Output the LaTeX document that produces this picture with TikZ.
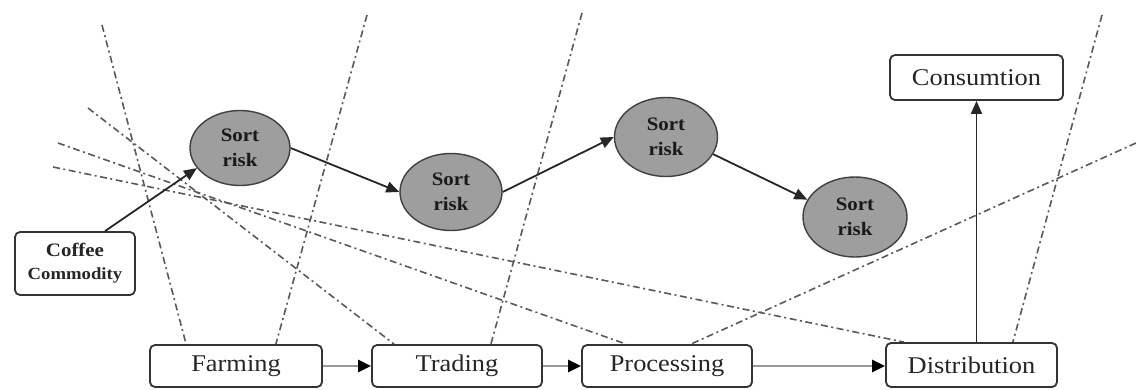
\documentclass[tikz,border=0pt]{standalone}
\usepackage{fontspec}
\setmainfont[FakeStretch=1.1]{Liberation Serif}
\usetikzlibrary{arrows.meta,shapes.geometric,backgrounds}
\begin{document}
\begin{tikzpicture}[x=1pt,y=-1pt,
  stage/.style={draw=black!80, line width=1.8pt, rounded corners=5pt, fill=white,
    inner sep=0pt, text=black!85, font=\fontsize{24}{26}\selectfont},
  risk/.style={ellipse, draw=black!75, line width=1.4pt, fill=black!38, inner sep=0pt,
    align=center, text=black!90, font=\bfseries\fontsize{19}{25}\selectfont},
  link/.style={line width=1.8pt, draw=black!85, -{Triangle[length=13pt,width=11pt]}},
  flow/.style={line width=2.6pt, draw=black!40, -{Triangle[length=13pt,width=12pt,color=black]}},
  hazard/.style={line width=1.6pt, draw=black!65, dash pattern=on 7pt off 3.5pt on 2pt off 3.5pt}]
\useasboundingbox (0,0) rectangle (1136,389);

% supply-chain stages
\node[stage, minimum width=120pt, minimum height=63pt, align=center,
  font=\bfseries\fontsize{19}{23}\selectfont] (coffee) at (75,263.5)
  {Coffee\\{\fontsize{17}{23}\selectfont Commodity}};
\node[stage, minimum width=172pt, minimum height=42pt] (farm) at (236,366) {Farming};
\node[stage, minimum width=170pt, minimum height=42pt] (trad) at (457,366) {Trading};
\node[stage, minimum width=170pt, minimum height=42pt] (proc) at (667,366) {Processing};
\node[stage, minimum width=171pt, minimum height=44pt] (dist) at (971.5,365) {Distribution};
\node[stage, minimum width=173pt, minimum height=45pt] (cons) at (976.5,77.5) {Consumtion};

% risk points
\node[risk, minimum width=100pt, minimum height=75pt] (r1) at (240,148) {Sort\\risk};
\node[risk, minimum width=102pt, minimum height=77pt] (r2) at (451,192) {Sort\\risk};
\node[risk, minimum width=103pt, minimum height=79pt] (r3) at (666,137) {Sort\\risk};
\node[risk, minimum width=104pt, minimum height=80pt] (r4) at (855,217) {Sort\\risk};

% free ends of the risk lines
\coordinate (a1) at (102,25);
\coordinate (a2) at (367,15);
\coordinate (a3) at (88,108);
\coordinate (a4) at (58,143);
\coordinate (a5) at (53,167);
\coordinate (a6) at (582,13);
\coordinate (a7) at (1136,143);
\coordinate (a8) at (1102,15);

\begin{scope}[on background layer]
  \draw[hazard] (a1) -- ([xshift=37pt]farm.north west);
  \draw[hazard] (a2) -- ([xshift=-47pt]farm.north east);
  \draw[hazard] (a3) -- ([xshift=23pt]trad.north west);
  \draw[hazard] (a6) -- ([xshift=-52pt]trad.north east);
  \draw[hazard] (a4) -- ([xshift=45pt]proc.north west);
  \draw[hazard] (a7) -- ([xshift=-62pt]proc.north east);
  \draw[hazard] (a5) -- ([xshift=19pt]dist.north west);
  \draw[hazard] (a8) -- ([xshift=-45pt]dist.north east);
\end{scope}

% risk chain
\draw[link] ([xshift=30pt]coffee.north) -- (r1.205);
\draw[link] (r1.east) -- (r2.west);
\draw[link] (r2.east) -- (r3.west);
\draw[link] (r3.-20) -- (r4.160);
\draw[link] (dist.north -| cons) -- (cons.south);

% flow of goods
\draw[flow] (farm.east) -- (trad.west);
\draw[flow] (trad.east) -- (proc.west);
\draw[flow] (proc.east) -- (dist.west |- proc.east);
\end{tikzpicture}
\end{document}
